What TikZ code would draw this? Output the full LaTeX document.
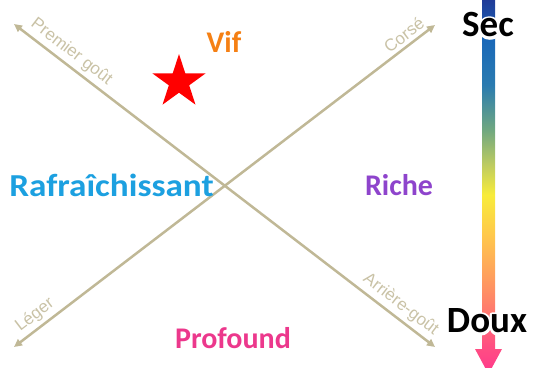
\documentclass[tikz,border=0pt]{standalone}
\usepackage{fontspec}
\usetikzlibrary{shapes.geometric, arrows.meta}
\newfontfamily\carlito{Carlito}
\newfontfamily\arial{Liberation Sans}
\definecolor{axebeige}{RGB}{192,184,150}
\definecolor{labelbeige}{RGB}{201,194,166}
\definecolor{vifcol}{RGB}{245,128,20}
\definecolor{fraiscol}{RGB}{28,160,224}
\definecolor{richecol}{RGB}{142,68,204}
\definecolor{profcol}{RGB}{236,56,140}
\definecolor{g0}{RGB}{32,60,152}
\definecolor{g1}{RGB}{26,104,184}
\definecolor{g2}{RGB}{42,123,176}
\definecolor{g3}{RGB}{112,168,128}
\definecolor{g4}{RGB}{190,204,96}
\definecolor{g5}{RGB}{248,236,58}
\definecolor{g6}{RGB}{255,200,76}
\definecolor{g7}{RGB}{255,160,92}
\definecolor{g8}{RGB}{255,122,110}
\definecolor{g9}{RGB}{255,80,130}
\definecolor{g10}{RGB}{255,56,140}
\pgfdeclareverticalshading{secdoux}{100bp}{color(0bp)=(g10); color(25bp)=(g10);
  color(28.88bp)=(g9); color(33.56bp)=(g8); color(38.24bp)=(g7); color(43.58bp)=(g6);
  color(48.93bp)=(g5); color(52.94bp)=(g4); color(57.62bp)=(g3); color(63.64bp)=(g2);
  color(69.65bp)=(g1); color(75bp)=(g0); color(100bp)=(g0)}
\newcommand\halotext[1]{\special{pdf:literal direct 1 Tr 5 w 1 j}#1\special{pdf:literal direct 0 Tr 1 w}}
\tikzset{
  gout/.style={font=\carlito\bfseries\fontsize{30}{36}\selectfont, inner sep=0pt},
  echelle/.style={font=\carlito\bfseries\fontsize{37}{44}\selectfont, inner sep=0pt},
  halo/.style={echelle, text=white},
  axe/.style={draw=axebeige, line width=2.5pt,
              {Triangle[length=8pt,width=7.5pt]}-{Triangle[length=8pt,width=7.5pt]}},
  axelabel/.style={sloped, above=1.5pt, inner sep=2pt, text=labelbeige,
                   font=\arial\fontsize{17}{20}\selectfont},
}

\begin{document}
\begin{tikzpicture}[x=1pt, y=-1pt]
    \useasboundingbox (0,0) rectangle (534,367);
    \shade[shading=secdoux] (482,0) -- (495,0) -- (495,349) -- (502,349) -- (488.5,374)
      -- (475,349) -- (482,349) -- cycle;
    \coordinate (premier) at (14,24);
    \coordinate (arriere) at (435,347);
    \coordinate (leger) at (14,347);
    \coordinate (corse) at (435,25);
    \draw[axe] (premier) -- node[axelabel, pos=0.118] (premiergout) {Premier goût}
      node[axelabel, pos=0.9] (arrieregout) {Arrière-goût} (arriere);
    \draw[axe] (leger) -- node[axelabel, pos=0.068] (legerlab) {Léger}
      node[axelabel, pos=0.942] (corselab) {Corsé} (corse);
    \node[star, star points=5, star point ratio=2.618, fill=red, minimum size=56pt,
          inner sep=0pt] (etoile) at (179,82) {};
    \node[gout, text=vifcol] (vif) at (224,42) {Vif};
    \node[gout, text=fraiscol, font=\carlito\bfseries\fontsize{32}{38}\selectfont,
          xscale=1.1] (frais) at (111.5,185) {Rafraîchissant};
    \node[gout, text=richecol] (riche) at (399,185) {Riche};
    \node[gout, text=profcol] (profound) at (233,338) {Profound};
    \node[halo] (sechalo) at (488,25) {\halotext{Sec}};
    \node[echelle] (sec) at (sechalo) {Sec};
    \node[halo] (douxhalo) at (487,321) {\halotext{Doux}};
    \node[echelle] (doux) at (douxhalo) {Doux};
  \end{tikzpicture}
\end{document}
